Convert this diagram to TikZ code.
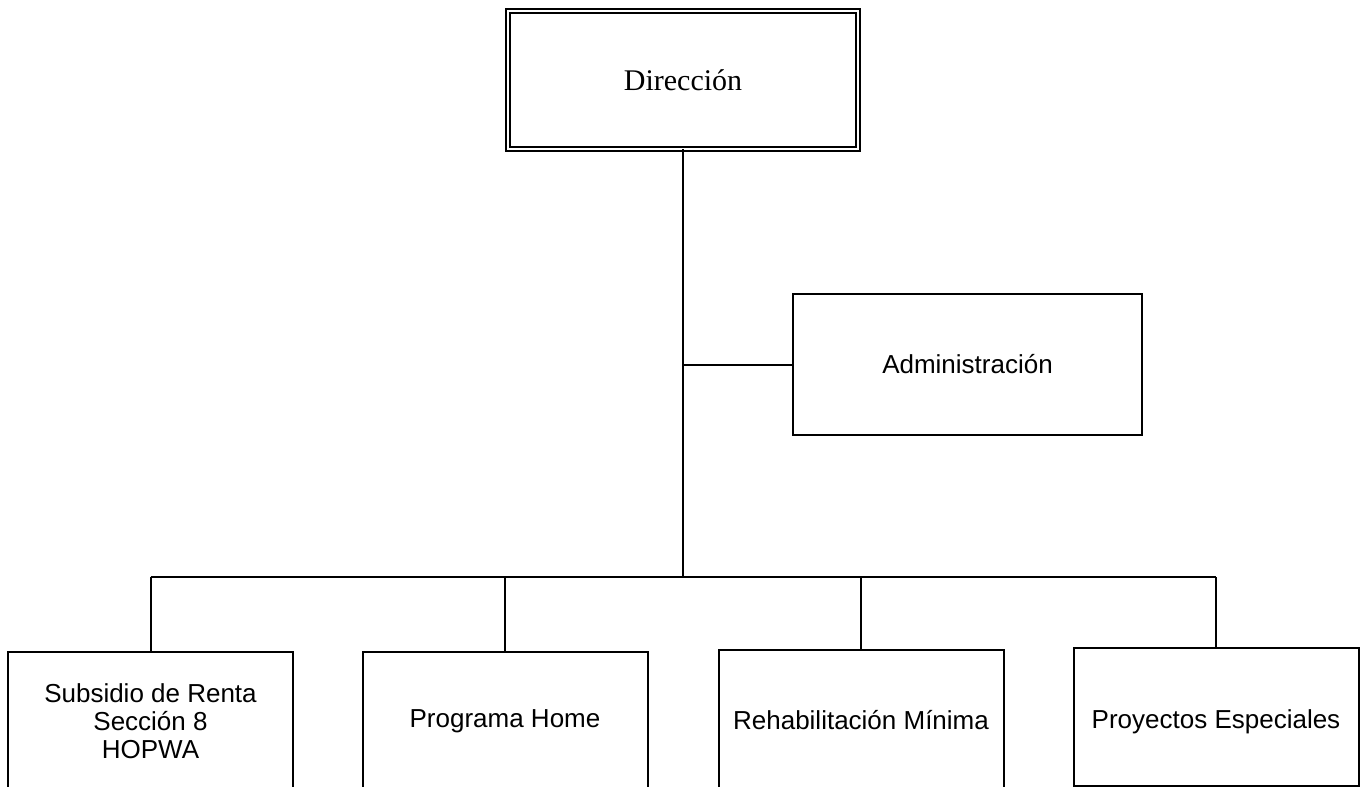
\documentclass[tikz,border=0pt]{standalone}
\usepackage{fontspec}
\setmainfont{Liberation Serif}
\setsansfont{Liberation Sans}
\usetikzlibrary{positioning}

\begin{document}
\begin{tikzpicture}[x=1pt,y=-1pt]
	% Styles of the chart
	\tikzset{unit/.style={draw, line width=2pt, rectangle, inner sep=0pt, outer sep=0pt, align=center,
			font=\sffamily\fontsize{26}{28}\selectfont, minimum width=285pt, minimum height=138pt}}
	\tikzset{head/.style={draw, double, double distance=2.2pt, line width=1.7pt, rectangle, inner sep=0pt,
			outer sep=0pt, font=\rmfamily\fontsize{30}{34}\selectfont, minimum width=350pt, minimum height=138pt}}
	\tikzset{link/.style={line width=2pt}}
	
	\useasboundingbox (0,0) rectangle (1360,787);
	\clip (0,0) rectangle (1360,787);
	
	\node [head] (direccion) at (683,80) {Dirección};
	\node [unit, minimum width=349pt, minimum height=141pt] (admin) at (967.5,364.5) {Administración};
	
	\node [unit] (subsidio) at (150.5,721) {Subsidio de Renta\\Sección 8\\HOPWA};
	\node [unit] (home) at (505,721) {Programa Home};
	\node [unit] (rehab) at (861,719) {\raisebox{-1pt}[\height][\depth]{Rehabilitación Mínima}};
	\node [unit] (especiales) at (1216,717) {\raisebox{-5pt}[\height][\depth]{Proyectos Especiales}};
	
	% Trunk and bus
	\coordinate (tap) at (683,364.5);
	\coordinate (hub) at (683,577);
	\coordinate (busl) at (subsidio.north |- hub);
	\coordinate (busr) at (especiales.north |- hub);
	
	\draw [link] (direccion.south) -- (hub);
	\draw [link] (tap) -- (admin.west);
	\draw [link] (busl) -- (busr);
	
	\draw [link] (busl) -- (subsidio.north);
	\draw [link] (home.north |- hub) -- (home.north);
	\draw [link] (rehab.north |- hub) -- (rehab.north);
	\draw [link] (busr) -- (especiales.north);
	
\end{tikzpicture}
\end{document}
